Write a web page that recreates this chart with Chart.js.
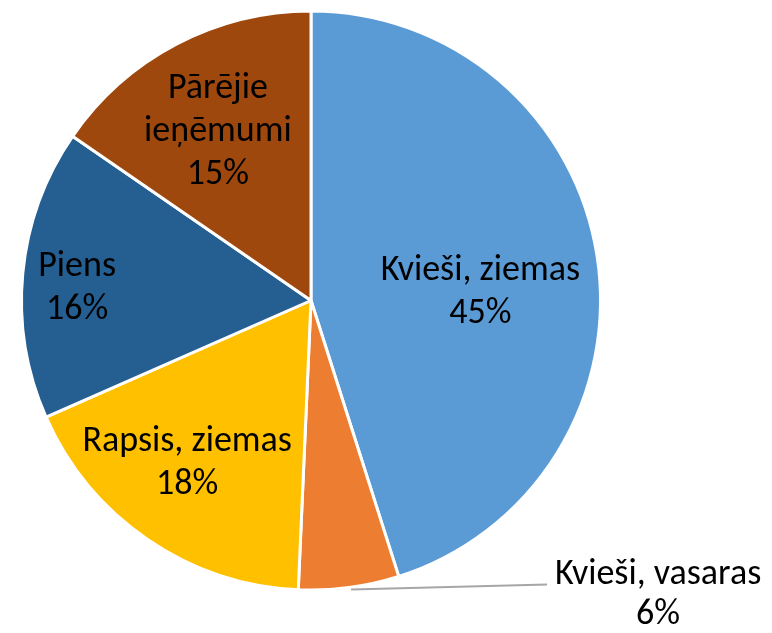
<!DOCTYPE html>
<html>
<head>
<meta charset="utf-8">
<script src="https://cdn.jsdelivr.net/npm/chart.js@4"></script>
<style>
  html, body { margin: 0; padding: 0; background: #fff; }
  #wrap { width: 772px; height: 633px; }
</style>
</head>
<body>
<div id="wrap"><canvas id="pie" width="772" height="633"></canvas></div>
<script>
// data (share of income, %)
var categories = ['Kvieši, ziemas', 'Kvieši, vasaras', 'Rapsis, ziemas', 'Piens', 'Pārējie ieņēmumi'];
var shares = [45.1, 5.6, 17.7, 16.2, 15.4];
var labelLines = [['Kvieši, ziemas'], ['Kvieši, vasaras'], ['Rapsis, ziemas'], ['Piens'], ['Pārējie', 'ieņēmumi']];

var colors = ['#5B9BD5', '#ED7D31', '#FFC000', '#255E91', '#9E480E'];

// label placement: fraction of radius along mid angle, plus small nudges
var labelStyle = [
  { r: 0.585, dx: 2, dy: 27 },
  { r: 1.0, dx: 0, dy: 0, outside: true },
  { r: 0.733, dx: -4, dy: -3 },
  { r: 0.808, dx: -1, dy: 19 },
  { r: 0.639, dx: -7, dy: 4 }
];

var FONT = '36px Carlito, Calibri, Lato, "Open Sans", sans-serif';
var LINE_H = 43;

function drawBlock(ctx, lines, cx, cy, lh) {
  lines.forEach(function(t, k) {
    ctx.fillText(t, cx, cy + (k - (lines.length - 1) / 2) * lh);
  });
}

var pieLabels = {
  id: 'pieLabels',
  afterDatasetsDraw: function(chart) {
    var ctx = chart.ctx;
    var meta = chart.getDatasetMeta(0);
    var total = shares.reduce(function(a, b) { return a + b; }, 0);
    ctx.save();
    ctx.font = FONT;
    ctx.fillStyle = '#000';
    ctx.textAlign = 'center';
    ctx.textBaseline = 'alphabetic';
    meta.data.forEach(function(arc, i) {
      var p = arc.getProps(['x', 'y', 'startAngle', 'endAngle', 'outerRadius']);
      var mid = (p.startAngle + p.endAngle) / 2;
      var st = labelStyle[i];
      var lines = labelLines[i].concat([Math.round(shares[i] / total * 100) + '%']);
      if (st.outside) {
        var ex = p.x + Math.cos(mid) * p.outerRadius;
        var ey = p.y + Math.sin(mid) * p.outerRadius;
        ctx.strokeStyle = '#A6A6A6';
        ctx.lineWidth = 2;
        ctx.beginPath();
        ctx.moveTo(ex + 2, ey + 2);
        ctx.lineTo(ex + 198, ey - 3);
        ctx.stroke();
        drawBlock(ctx, lines, ex + 309, ey + 17, 40);
        return;
      }
      var cx = p.x + Math.cos(mid) * p.outerRadius * st.r + st.dx;
      var cy = p.y + Math.sin(mid) * p.outerRadius * st.r + st.dy;
      drawBlock(ctx, lines, cx, cy, LINE_H);
    });
    ctx.restore();
  }
};

new Chart(document.getElementById('pie'), {
  type: 'pie',
  data: {
    labels: categories,
    datasets: [{
      data: shares,
      backgroundColor: colors,
      borderColor: '#fff',
      borderWidth: 3
    }]
  },
  options: {
    responsive: false,
    animation: false,
    layout: { padding: { left: 20, right: 170, top: 9, bottom: 41 } },
    plugins: {
      legend: { display: false },
      tooltip: { enabled: false }
    }
  },
  plugins: [pieLabels]
});
</script>
</body>
</html>
